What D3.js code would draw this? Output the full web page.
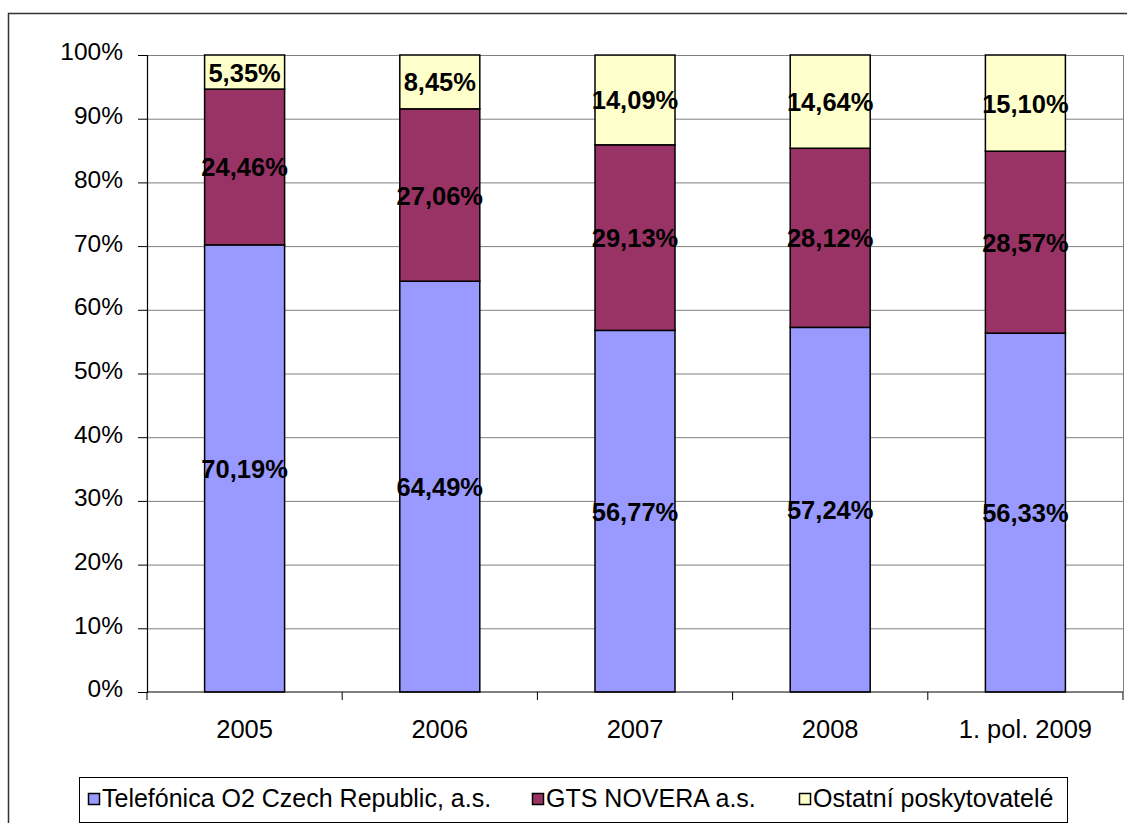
<!DOCTYPE html>
<meta charset="utf-8">
<head>
  <style>
    html, body { margin: 0; padding: 0; background: #fff; }
    svg { display: block; font-family: "Liberation Sans", Arial, sans-serif; }
  </style>
</head>
<script src="https://cdn.jsdelivr.net/npm/d3@7"></script>
<body>
<script>
  // categories and series (percent shares)
  var years = ["2005", "2006", "2007", "2008", "1. pol. 2009"];
  var seriesNames = ["Telefónica O2 Czech Republic, a.s.", "GTS NOVERA a.s.", "Ostatní poskytovatelé"];
  var telefonica = [70.19, 64.49, 56.77, 57.24, 56.33];
  var gts = [24.46, 27.06, 29.13, 28.12, 28.57];
  var ostatni = [5.35, 8.45, 14.09, 14.64, 15.10];
  var labels = [
    ["70,19%", "64,49%", "56,77%", "57,24%", "56,33%"],
    ["24,46%", "27,06%", "29,13%", "28,12%", "28,57%"],
    ["5,35%", "8,45%", "14,09%", "14,64%", "15,10%"]
  ];
  var yTicks = [0, 10, 20, 30, 40, 50, 60, 70, 80, 90, 100];
  var colors = ["#9999FF", "#993366", "#FFFFCC"];

  var width = 1127, height = 823;
  var svg = d3.select("body").append("svg")
    .attr("width", width)
    .attr("height", height);

  // outer frame of the chart
  svg.append("rect")
    .attr("x", 8.5).attr("y", 13.5)
    .attr("width", 1130).attr("height", 830)
    .attr("fill", "none").attr("stroke", "#333").attr("stroke-width", 1.5);

  var pLeft = 147, pRight = 1123, pTop = 55, pBottom = 692;

  var x = d3.scaleBand().domain(years).range([pLeft, pRight]).paddingInner(0).paddingOuter(0);
  var y = d3.scaleLinear().domain([0, 100]).range([pBottom, pTop]);

  // gridlines
  svg.append("g").selectAll("line").data(yTicks.slice(1)).enter().append("line")
    .attr("x1", pLeft).attr("x2", pRight)
    .attr("y1", function(d){ return y(d) + 0.5; }).attr("y2", function(d){ return y(d) + 0.5; })
    .attr("stroke", "#808080").attr("stroke-width", 1);
  // right border of plot
  svg.append("line").attr("x1", pRight + 0.5).attr("x2", pRight + 0.5).attr("y1", pTop).attr("y2", pBottom)
    .attr("stroke", "#808080").attr("stroke-width", 1);

  var rows = years.map(function(yr, i){
    return { year: yr, a: telefonica[i], b: gts[i], c: ostatni[i] };
  });
  var stack = d3.stack().keys(["a", "b", "c"]);
  var stacked = stack(rows);

  var bw = 80;
  var layers = svg.append("g").selectAll("g").data(stacked).enter().append("g")
    .attr("fill", function(d, i){ return colors[i]; });
  layers.selectAll("rect").data(function(d){ return d; }).enter().append("rect")
    .attr("x", function(d){ return x(d.data.year) + x.bandwidth()/2 - bw/2; })
    .attr("width", bw)
    .attr("y", function(d){ return y(Math.min(d[1], 100)); })
    .attr("height", function(d){ return y(d[0]) - y(Math.min(d[1], 100)); })
    .attr("stroke", "#000").attr("stroke-width", 1.5);

  // axes
  var yAxis = svg.append("g").attr("transform", "translate(" + pLeft + ",0)")
    .call(d3.axisLeft(y).tickValues(yTicks).tickSize(9).tickFormat(function(d){ return d + "%"; }));
  yAxis.select(".domain").attr("stroke", "#000").attr("stroke-width", 1.2);
  yAxis.selectAll(".tick line").attr("stroke", "#000");
  yAxis.selectAll(".tick text").attr("font-size", 24.5).attr("fill", "#000")
    .attr("font-family", "Liberation Sans, Arial, sans-serif").attr("x", -24).attr("dy", "0.2em");

  var xEdges = years.map(function(d){ return x(d); }).concat([pRight]);
  var xg = svg.append("g");
  xg.append("line").attr("x1", pLeft).attr("x2", pRight).attr("y1", pBottom).attr("y2", pBottom)
    .attr("stroke", "#000").attr("stroke-width", 1.2);
  xg.selectAll("line.t").data(xEdges).enter().append("line")
    .attr("x1", function(d){ return d; }).attr("x2", function(d){ return d; })
    .attr("y1", pBottom).attr("y2", pBottom + 8).attr("stroke", "#000");
  xg.selectAll("text").data(years).enter().append("text")
    .attr("x", function(d){ return x(d) + x.bandwidth()/2; })
    .attr("y", 738)
    .attr("text-anchor", "middle").attr("font-size", 25.5).text(function(d){ return d; });

  // value labels
  var lg = svg.append("g");
  stacked.forEach(function(layer, li){
    lg.selectAll("text.l" + li).data(layer).enter().append("text")
      .attr("x", function(d){ return x(d.data.year) + x.bandwidth()/2; })
      .attr("y", function(d){ return y((d[0] + Math.min(d[1], 100)) / 2) + 9.5; })
      .attr("text-anchor", "middle").attr("font-size", 25.5).attr("font-weight", "bold")
      .text(function(d, i){ return labels[li][i]; });
  });

  // legend
  var leg = svg.append("g");
  leg.append("rect").attr("x", 79.5).attr("y", 777.5).attr("width", 988).attr("height", 45)
    .attr("fill", "#fff").attr("stroke", "#000").attr("stroke-width", 1);
  var legX = [88, 532, 799];
  seriesNames.forEach(function(name, i){
    leg.append("rect").attr("x", legX[i] + 0.5).attr("y", 793.5).attr("width", 11).attr("height", 11)
      .attr("fill", colors[i]).attr("stroke", "#000").attr("stroke-width", 1.5);
    leg.append("text").attr("x", legX[i] + 14).attr("y", 807).attr("font-size", 25).text(name);
  });
</script>
</body>
